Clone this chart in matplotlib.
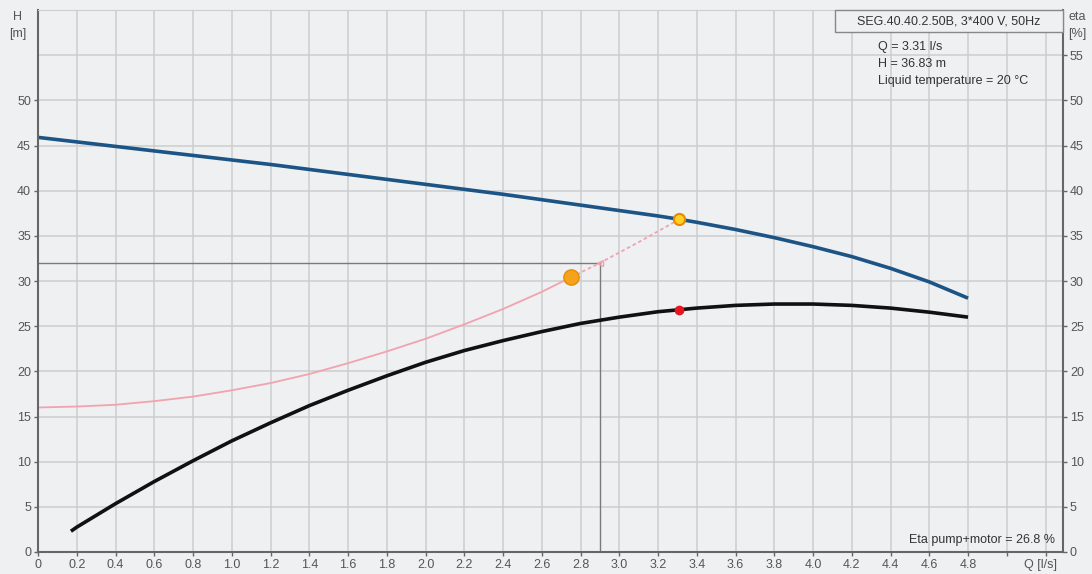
import numpy as np
import matplotlib
matplotlib.use("Agg")
import matplotlib.pyplot as plt
from matplotlib.patches import Rectangle

plt.rcParams['font.family'] = ['Liberation Sans', 'DejaVu Sans']

# pump curve H(Q)
q_h = [0, 0.2, 0.4, 0.6, 0.8, 1.0, 1.2, 1.4, 1.6, 1.8, 2.0, 2.2, 2.4, 2.6, 2.8, 3.0, 3.2, 3.31,
       3.4, 3.6, 3.8, 4.0, 4.2, 4.4, 4.6, 4.8]
h = [45.9, 45.4, 44.9, 44.4, 43.9, 43.4, 42.9, 42.35, 41.8, 41.25, 40.7, 40.15, 39.6, 39.0, 38.4,
     37.8, 37.2, 36.83, 36.5, 35.7, 34.8, 33.8, 32.7, 31.4, 29.9, 28.1]

# efficiency eta(Q)
q_eta = [0.17, 0.2, 0.4, 0.6, 0.8, 1.0, 1.2, 1.4, 1.6, 1.8, 2.0, 2.2, 2.4, 2.6, 2.8, 3.0, 3.2,
         3.4, 3.6, 3.8, 4.0, 4.2, 4.4, 4.6, 4.8]
eta = [2.3, 2.75, 5.35, 7.8, 10.1, 12.3, 14.3, 16.2, 17.9, 19.5, 21.0, 22.3, 23.4, 24.4, 25.3,
       26.0, 26.6, 27.0, 27.3, 27.45, 27.45, 27.3, 27.0, 26.55, 26.0]

# system curve
q_sys = [0, 0.2, 0.4, 0.6, 0.8, 1.0, 1.2, 1.4, 1.6, 1.8, 2.0, 2.2, 2.4, 2.6, 2.75]
h_sys = [16.0, 16.1, 16.3, 16.7, 17.2, 17.9, 18.7, 19.7, 20.9, 22.2, 23.6, 25.2, 26.9, 28.8, 30.4]
q_sys2 = [2.75, 2.9, 3.1, 3.31]
h_sys2 = [30.4, 32.0, 34.3, 36.83]

q_duty, h_duty, eta_duty = 3.31, 36.83, 26.8
q_req, h_req = 2.75, 30.4
q_cross, h_cross = 2.9, 32.0

x_ticks = np.round(np.arange(0, 5.21, 0.2), 1)
x_labels = ['0'] + ['%.1f' % v for v in x_ticks[1:25]] + ['', '']
h_ticks = np.arange(0, 51, 5)
eta_ticks = np.arange(0, 56, 5)

bg = '#eef0f2'
gridc = '#cccdcf'
txtc = '#555555'

fig = plt.figure(figsize=(10.92, 5.74), dpi=100, facecolor=bg)
ax = fig.add_axes([38 / 1092, 1 - 552 / 574, (1063 - 38) / 1092, (552 - 10) / 574])
ax.set_facecolor(bg)
ax.set_xlim(0, 5.29)
ax.set_ylim(0, 60)
ax.set_xticks(x_ticks)
ax.set_xticklabels(x_labels)
ax.set_yticks(h_ticks)
ax.set_yticklabels([str(v) for v in h_ticks])
ax.grid(True, color=gridc, lw=1.1)
for yv in [55, 60]:
    ax.axhline(yv, color=gridc, lw=1.1, zorder=0.5)
ax.set_axisbelow(True)
for s in ['left', 'bottom', 'right']:
    ax.spines[s].set_color('#666666')
    ax.spines[s].set_linewidth(1.5)
ax.spines['top'].set_color(gridc)
ax.tick_params(colors='#666666', labelcolor=txtc, labelsize=9, length=3, width=1, pad=2)

ax2 = ax.twinx()
ax2.set_ylim(0, 60)
ax2.set_yticks(eta_ticks)
ax2.set_yticklabels([str(v) for v in eta_ticks])
ax2.tick_params(colors='#666666', labelcolor=txtc, labelsize=9, length=3, width=1, pad=2)
for s in ax2.spines.values():
    s.set_visible(False)

# guide lines
ax.plot([0, q_cross], [h_cross, h_cross], color='#7a7a7a', lw=1)
ax.plot([q_cross, q_cross], [0, h_cross], color='#7a7a7a', lw=1)

ax.plot(q_sys, h_sys, color='#f2a3ad', lw=1.3)
ax.plot(q_sys2, h_sys2, color='#f2a3ad', lw=1.3, ls=(0, (2, 1.5)))
ax.plot(q_h, h, color='#1c5486', lw=2.6, solid_capstyle='butt')
ax.plot(q_eta, eta, color='#111111', lw=2.6, solid_capstyle='butt')

ax.plot(q_cross, h_cross, marker='<', ms=5, mfc='none', mec='#f2a3ad', mew=1)
ax.plot(q_req, h_req, 'o', ms=11, mfc='#f5a21c', mec='#e68c00', mew=1)
ax.plot(q_duty, h_duty, 'o', ms=8, mfc='#ffd028', mec='#e88a00', mew=1.5)
ax.plot(q_duty, eta_duty, 'o', ms=6, mfc='#e8141e', mec='#e8141e')

# texts
fig.text(18 / 1092, 1 - 17 / 574, 'H', ha='center', va='center', fontsize=9, color=txtc)
fig.text(18 / 1092, 1 - 34 / 574, '[m]', ha='center', va='center', fontsize=9, color=txtc)
fig.text(1077 / 1092, 1 - 17 / 574, 'eta', ha='center', va='center', fontsize=9, color=txtc)
fig.text(1077 / 1092, 1 - 34 / 574, '[%]', ha='center', va='center', fontsize=9, color=txtc)
fig.text(1040 / 1092, 1 - 565 / 574, 'Q [l/s]', ha='center', va='center', fontsize=9, color=txtc)

fig.patches.append(Rectangle((835 / 1092, 1 - 32 / 574), (1063 - 835) / 1092, 22 / 574,
                             transform=fig.transFigure, fc=bg, ec='#888888', lw=1, zorder=5))
fig.text(949 / 1092, 1 - 21 / 574, 'SEG.40.40.2.50B, 3*400 V, 50Hz', ha='center', va='center',
         fontsize=9, color='#333333', zorder=6)
fig.text(878 / 1092, 1 - 47 / 574, 'Q = 3.31 l/s', ha='left', va='center', fontsize=9, color='#333333')
fig.text(878 / 1092, 1 - 64 / 574, 'H = 36.83 m', ha='left', va='center', fontsize=9, color='#333333')
fig.text(878 / 1092, 1 - 81 / 574, 'Liquid temperature = 20 \u00b0C', ha='left', va='center',
         fontsize=9, color='#333333')
fig.text(1055 / 1092, 1 - 540 / 574, 'Eta pump+motor = 26.8 %', ha='right', va='center',
         fontsize=9, color='#333333')

fig.savefig('out.png', dpi=100, facecolor=bg)
